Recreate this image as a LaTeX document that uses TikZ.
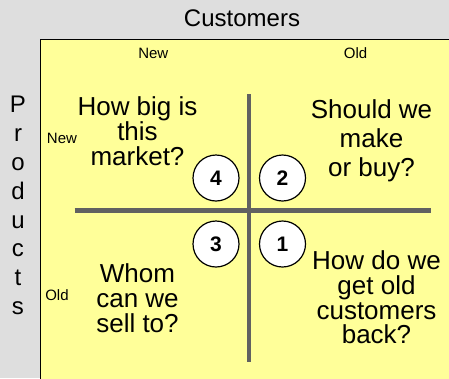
\documentclass[tikz,border=0pt]{standalone}
\usepackage{fontspec}
\setmainfont{Liberation Sans}
\begin{document}
\begin{tikzpicture}[x=1pt,y=-1pt,
  axislabel/.style={font=\fontsize{24}{28.8}\selectfont, inner sep=0pt},
  smalllabel/.style={font=\fontsize{15}{18}\selectfont, inner sep=0pt, anchor=base},
  question/.style={align=center, inner sep=0pt, anchor=north},
  divider/.style={draw=black!62, line width=4.6pt},
  badge/.style={circle, draw=black, line width=1.2pt, fill=white, minimum size=46pt,
    inner sep=0pt, font=\fontsize{21}{24}\selectfont\bfseries}]
\definecolor{bgray}{HTML}{DEDEDE}
\definecolor{pad}{HTML}{FFFF99}
% page background and the yellow matrix panel
\fill[bgray] (0,0) rectangle (449,378);
\useasboundingbox (0,0) rectangle (449,378);
\filldraw[fill=pad, draw=black, line width=1pt] (40,39) rectangle (460,390);

% axis titles
\node[axislabel, anchor=base] (cust) at (242,26.7) {Customers};
\node[axislabel, align=center, anchor=north] (prod) at (18,96.1)
  {P\\r\\o\\d\\u\\c\\t\\s};

\node[smalllabel] (cnew) at (153.3,58.3) {New};
\node[smalllabel] (cold) at (355.5,58.3) {Old};
\node[smalllabel] (pnew) at (62,143.3) {New};
\node[smalllabel] (pold) at (57,300) {Old};

% quadrant dividers
\coordinate (vtop) at (249,94);
\coordinate (vbot) at (249,362);
\coordinate (hl) at (74.5,210.5);
\coordinate (hr) at (431,210.5);
\draw[divider] (vtop) -- (vbot);
\draw[divider] (hl) -- (hr);

% quadrant questions
\node[question, font=\fontsize{26}{25}\selectfont] (q4) at (137.5,96.4)
  {How big is\\this\\market?};
\node[question, font=\fontsize{26}{28.7}\selectfont] (q2) at (371.5,99.7)
  {Should we\\make\\or buy?};
\node[question, font=\fontsize{26}{25}\selectfont] (q3) at (137.5,263)
  {Whom\\can we\\sell to?};
\node[question, font=\fontsize{26}{24.7}\selectfont] (q1) at (376.5,250.7)
  {How do we\\get old\\customers\\back?};

% numbered badges
\node[badge] (b4) at (216,178) {4};
\node[badge] (b2) at (282.5,178) {2};
\node[badge] (b3) at (216,244) {3};
\node[badge] (b1) at (282.5,244) {1};
\end{tikzpicture}
\end{document}
